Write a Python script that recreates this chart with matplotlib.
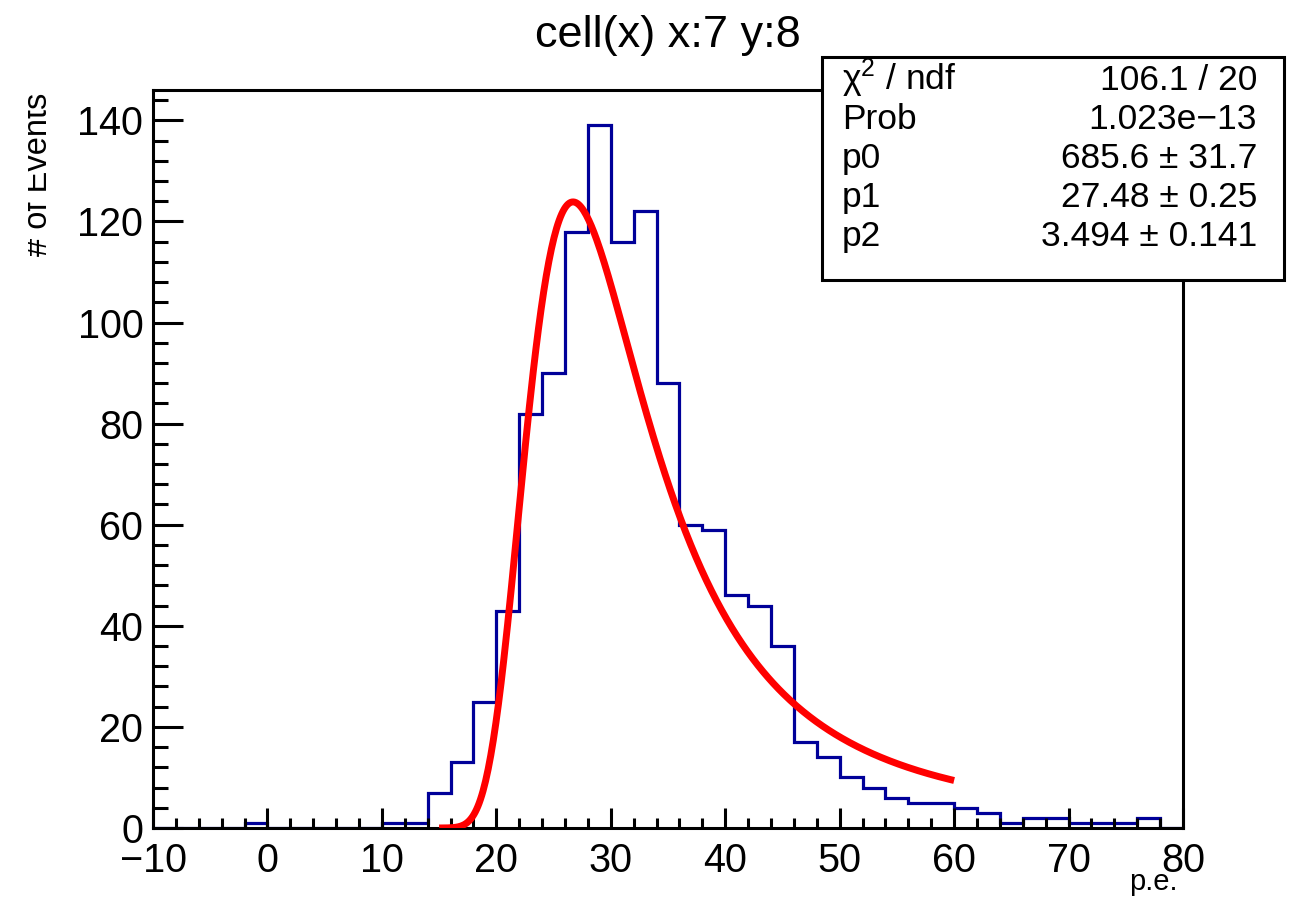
#!/usr/bin/env python

"""
Histogram of p.e. for one cell with the Landau fit drawn on top (ROOT style)
"""

import numpy as np
import matplotlib
matplotlib.use('Agg')
import matplotlib.pyplot as plt
from matplotlib.patches import Rectangle
from matplotlib.ticker import MultipleLocator
from matplotlib.transforms import Bbox
plt.rcParams['font.family'] = ['Liberation Sans', 'DejaVu Sans']

# histogram: 2 p.e. bins from -10 to 80
bin_edges = np.arange(-10, 82, 2)
counts = [0, 0, 0, 0, 1, 0, 0, 0, 0, 0,
          1, 1, 7, 13, 25, 43, 82, 90, 118, 139,
          116, 122, 88, 60, 59, 46, 44, 36, 17, 14,
          10, 8, 6, 5, 5, 4, 3, 1, 2, 2,
          1, 1, 1, 2, 0]

# landau fit result (from the stats box)
fit_range = [15, 60]
p0, p0_err = 685.6, 31.7
p1, p1_err = 27.48, 0.25
p2, p2_err = 3.494, 0.141
chi2, ndf = 106.1, 20
prob = '1.023e\u221213'


def landau(x):
    # standard landau density, same convention as TMath::Landau (max near -0.22278)
    t = np.linspace(1e-9, 25, 12501)
    arg = np.outer(x, t) + t * np.log(t)
    f = np.exp(-np.pi * t / 2) * np.cos(arg)
    return np.trapezoid(f, t, axis=1) / np.pi


def main(sfilename):
    fig = plt.figure(figsize=(12.99, 8.97), dpi=100)
    ax = fig.add_axes([153 / 1299, 1 - 828 / 897, 1030 / 1299, 738 / 897])

    ax.stairs(counts, bin_edges, color='#000099', lw=2.3, zorder=1)

    xf = np.linspace(fit_range[0], fit_range[1], 400)
    ax.plot(xf, p0 * landau((xf - p1) / p2), color='#ff0000', lw=5, zorder=3,
            solid_capstyle='butt')

    ax.set_xlim(-10, 80)
    ax.set_ylim(0, 146)
    ax.xaxis.set_major_locator(MultipleLocator(10))
    ax.xaxis.set_minor_locator(MultipleLocator(2))
    ax.yaxis.set_major_locator(MultipleLocator(20))
    ax.yaxis.set_minor_locator(MultipleLocator(4))
    ax.tick_params(which='both', direction='in', width=2.2, top=False, right=False, labelsize=28.5)
    ax.tick_params(axis='x', which='major', length=14.4, pad=10)
    ax.tick_params(axis='x', which='minor', length=7.2)
    ax.tick_params(axis='y', which='major', length=21.6, pad=7)
    ax.tick_params(axis='y', which='minor', length=10.8)
    for s in ax.spines.values():
        s.set_linewidth(2.2)

    # titles
    fig.text(668 / 1299, 1 - 47 / 897, 'cell(x) x:7 y:8', ha='center', va='baseline', fontsize=32.5)
    fig.text(1178 / 1299, 1 - 890 / 897, 'p.e.', ha='right', va='baseline', fontsize=21)
    ylab = fig.text(47 / 1299, 1 - 93 / 897, '# of Events', rotation=90, rotation_mode='anchor',
                    ha='right', va='baseline', fontsize=23.5)
    ylab.set_clip_box(Bbox.from_extents(28, 0, 300, 897))
    ylab.set_clip_on(True)

    # stats box
    box = Rectangle((822 / 1299, 1 - 280 / 897), 462 / 1299, 223 / 897, transform=fig.transFigure,
                    facecolor='white', edgecolor='black', lw=2.2, zorder=5)
    fig.add_artist(box)
    rows = [('$\\mathregular{\u03c7^{2}}$ / ndf', f'{chi2} / {ndf}'),
            ('Prob', prob),
            ('p0', f'{p0} \u00b1 {p0_err}'),
            ('p1', f'{p1} \u00b1 {p1_err:.2f}'),
            ('p2', f'{p2} \u00b1 {p2_err}')]
    baselines = [89.5, 129, 168, 207, 246]
    for (lab, val), b in zip(rows, baselines):
        fig.text(842 / 1299, 1 - b / 897, lab, ha='left', va='baseline', fontsize=25.5, zorder=6)
        fig.text(1257 / 1299, 1 - b / 897, val, ha='right', va='baseline', fontsize=25.5, zorder=6)

    plt.savefig(sfilename, dpi=100)
    plt.close()


if __name__ == '__main__':
    main('out.png')
